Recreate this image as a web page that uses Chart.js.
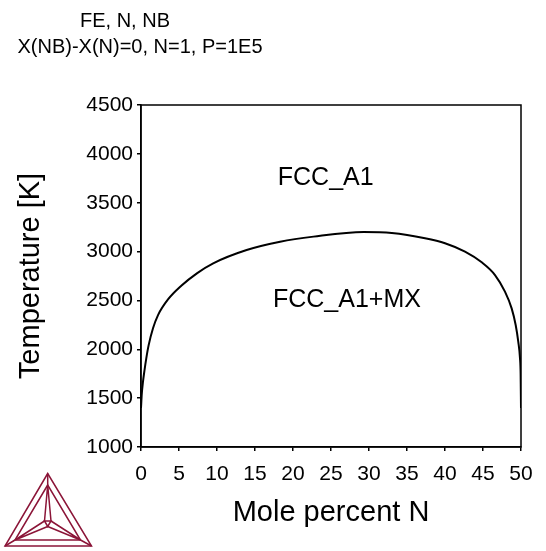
<!DOCTYPE html>
<html>
<head>
<meta charset="utf-8">
<script src="https://cdn.jsdelivr.net/npm/chart.js@4"></script>
<style>
  html, body { margin: 0; padding: 0; background: #fff; }
  canvas { display: block; }
</style>
</head>
<body>
<canvas id="phase" width="546" height="551"></canvas>
<script>
// FCC_A1 / FCC_A1+MX boundary along the NB=N section
const molePercentN = [0, 0.1, 0.25, 0.45, 0.7, 1.0, 1.58, 2.24, 3.55, 5.3, 7.4, 9.5, 13.9, 18.3, 22.7, 29.3, 33, 37.37, 40, 42.63, 44.83, 46.58, 47.89, 48.77, 49.3, 49.64, 49.87, 49.95, 50];
const temperatureK = [1400, 1540, 1660, 1780, 1910, 2040, 2215, 2350, 2510, 2650, 2780, 2880, 3016, 3101, 3153, 3200, 3190, 3136, 3085, 2999, 2890, 2760, 2590, 2419, 2249, 2078, 1907, 1750, 1400];

const headerLines = ['FE, N, NB', 'X(NB)-X(N)=0, N=1, P=1E5'];
const regionLabels = ['FCC_A1', 'FCC_A1+MX'];
const regionAt = [[24.3, 3750], [27.1, 2505]];

const FONT = '"Liberation Sans", Arial, sans-serif';

const points = molePercentN.map((x, i) => ({ x, y: temperatureK[i] }));

const extras = {
  id: 'extras',
  afterDraw(chart) {
    const ctx = chart.ctx;
    const a = chart.chartArea;
    const xs = chart.scales.x, ys = chart.scales.y;
    ctx.save();

    // frame around the plot
    ctx.strokeStyle = '#000';
    ctx.lineWidth = 1.5;
    ctx.strokeRect(a.left, a.top, a.right - a.left, a.bottom - a.top);

    // header
    ctx.fillStyle = '#000';
    ctx.font = '20px ' + FONT;
    ctx.textAlign = 'center';
    ctx.textBaseline = 'alphabetic';
    ctx.fillText(headerLines[0], 125, 27);
    ctx.fillText(headerLines[1], 140, 53);

    // phase region names
    ctx.font = '25px ' + FONT;
    ctx.textBaseline = 'middle';
    regionLabels.forEach((txt, i) => {
      ctx.fillText(txt, xs.getPixelForValue(regionAt[i][0]), ys.getPixelForValue(regionAt[i][1]));
    });

    // logo
    ctx.strokeStyle = '#8b1538';
    ctx.lineWidth = 1.5;
    const tri = (p) => {
      ctx.beginPath();
      ctx.moveTo(p[0][0], p[0][1]);
      ctx.lineTo(p[1][0], p[1][1]);
      ctx.lineTo(p[2][0], p[2][1]);
      ctx.closePath();
      ctx.stroke();
    };
    const outer = [[47.7, 473.5], [5, 546], [91.5, 546]];
    const inner = [[47.7, 485], [15, 540], [80.5, 540]];
    const core = [[44.5, 521], [51, 521], [47.7, 526.5]];
    tri(outer);
    tri(inner);
    tri(core);
    ctx.beginPath();
    for (let k = 0; k < 3; k++) {
      ctx.moveTo(outer[k][0], outer[k][1]);
      ctx.lineTo(inner[k][0], inner[k][1]);
    }
    ctx.moveTo(inner[0][0], inner[0][1]); ctx.lineTo(core[0][0], core[0][1]);
    ctx.moveTo(inner[0][0], inner[0][1]); ctx.lineTo(core[1][0], core[1][1]);
    ctx.moveTo(inner[1][0], inner[1][1]); ctx.lineTo(core[0][0], core[0][1]);
    ctx.moveTo(inner[1][0], inner[1][1]); ctx.lineTo(core[2][0], core[2][1]);
    ctx.moveTo(inner[2][0], inner[2][1]); ctx.lineTo(core[1][0], core[1][1]);
    ctx.moveTo(inner[2][0], inner[2][1]); ctx.lineTo(core[2][0], core[2][1]);
    ctx.stroke();

    ctx.restore();
  }
};

new Chart(document.getElementById('phase').getContext('2d'), {
  type: 'line',
  data: {
    datasets: [{
      data: points,
      borderColor: '#000',
      borderWidth: 2,
      pointRadius: 0,
      fill: false,
      cubicInterpolationMode: 'monotone'
    }]
  },
  options: {
    responsive: false,
    animation: false,
    devicePixelRatio: 1,
    layout: { padding: { left: 0, top: 105, right: 25, bottom: 0 } },
    plugins: { legend: { display: false }, tooltip: { enabled: false } },
    scales: {
      x: {
        type: 'linear',
        min: 0,
        max: 50,
        afterFit(scale) { scale.height = 104; },
        ticks: { stepSize: 5, color: '#000', padding: 11, font: { family: FONT, size: 21 }, callback: v => String(v) },
        grid: { drawOnChartArea: false, drawTicks: true, tickLength: 4, color: '#000', lineWidth: 1.5 },
        border: { display: true, color: '#000', width: 1.5 },
        title: { display: true, text: 'Mole percent N', color: '#000', padding: { top: 0, bottom: 21 }, font: { family: FONT, size: 29 } }
      },
      y: {
        min: 1000,
        max: 4500,
        afterFit(scale) { scale.width = 141; },
        ticks: { stepSize: 500, color: '#000', padding: 4, font: { family: FONT, size: 21 }, callback: v => String(v) },
        grid: { drawOnChartArea: false, drawTicks: true, tickLength: 4, color: '#000', lineWidth: 1.5 },
        border: { display: true, color: '#000', width: 1.5 },
        title: { display: true, text: 'Temperature [K]', color: '#000', padding: { top: 14, bottom: 0 }, font: { family: FONT, size: 29 } }
      }
    }
  },
  plugins: [extras]
});
</script>
</body>
</html>
